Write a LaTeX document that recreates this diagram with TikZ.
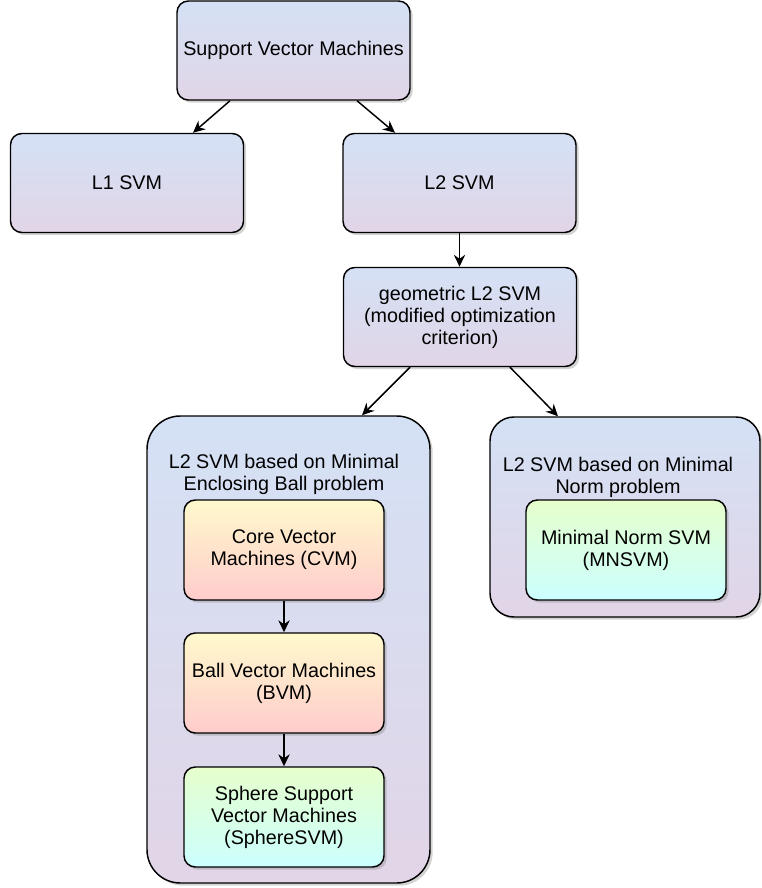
\documentclass[tikz,border=0pt]{standalone}
\usepackage{fontspec}
\setmainfont{Liberation Sans}
\usetikzlibrary{arrows.meta,calc,shadows}
\definecolor{BlueTop}{HTML}{D4E1F5}
\definecolor{BlueBot}{HTML}{E1D5E7}
\definecolor{YellowTop}{HTML}{FFF9CC}
\definecolor{RedBot}{HTML}{FFCCCC}
\definecolor{GreenTop}{HTML}{E6FFCC}
\definecolor{CyanBot}{HTML}{CCFFFF}

\tikzset{
  base/.style={draw=black,line width=1.1pt,align=center,
    font=\fontsize{14.8}{16.5}\selectfont,
    drop shadow={shadow xshift=2pt,shadow yshift=-2pt,opacity=0.35,fill=gray}},
  box/.style={base,rounded corners=8.5pt,minimum width=174.75pt,minimum height=74.25pt,
    top color=BlueTop,bottom color=BlueBot},
  inner/.style={base,rounded corners=8.5pt,minimum width=150pt,minimum height=75pt},
  warm/.style={inner,top color=YellowTop,bottom color=RedBot},
  cool/.style={inner,top color=GreenTop,bottom color=CyanBot},
  group/.style={base,top color=BlueTop,bottom color=BlueBot},
  title/.style={align=center,font=\fontsize{14.8}{16.5}\selectfont},
  arr/.style={line width=1.1pt,-{Stealth[length=9pt,width=8.5pt,inset=3pt]}}
}

\begin{document}
\begin{tikzpicture}[x=0.75pt,y=-0.75pt]
\path[use as bounding box] (0,0) rectangle (762,888);

% top levels
\node[box] (svm) at (293.5,50.5) {Support Vector Machines};
\node[box] (lone) at (127,183) {L1 SVM};
\node[box] (ltwo) at (459.5,183) {L2 SVM};
\node[box] (geo) at (460,317) {geometric L2 SVM\\(modified optimization\\criterion)};

% groups
\node[group,rounded corners=25pt,minimum width=212.25pt,minimum height=350.25pt] (meb) at (288.5,649.5) {};
\node[title] (mebtitle) at (284,474) {L2 SVM based on Minimal\\Enclosing Ball problem};
\node[group,rounded corners=18pt,minimum width=202.5pt,minimum height=150pt] (mn) at (625,517) {};
\node[title] (mntitle) at (618,477) {L2 SVM based on Minimal\\Norm problem};

% methods
\node[warm] (cvm) at (284,550) {Core Vector\\Machines (CVM)};
\node[warm] (bvm) at (284,683) {Ball Vector Machines\\(BVM)};
\node[cool] (ssvm) at (284,817) {Sphere Support\\Vector Machines\\(SphereSVM)};
\node[cool] (mnsvm) at (626,550) {Minimal Norm SVM\\(MNSVM)};

% arrows
\draw[arr] ($(svm.south)+(-63.5,0)$) -- ($(lone.north)+(66,0)$);
\draw[arr] ($(svm.south)+(63.5,0)$) -- ($(ltwo.north)+(-64.5,0)$);
\draw[arr] (ltwo.south) -- (ltwo.south |- geo.north);
\draw[arr] ($(geo.south)+(-50,0)$) -- ($(meb.north)+(73.5,0)$);
\draw[arr] ($(geo.south)+(50,0)$) -- ($(mn.north)+(-67,0)$);
\draw[arr] (cvm) -- (bvm);
\draw[arr] (bvm) -- (ssvm);
\end{tikzpicture}
\end{document}
